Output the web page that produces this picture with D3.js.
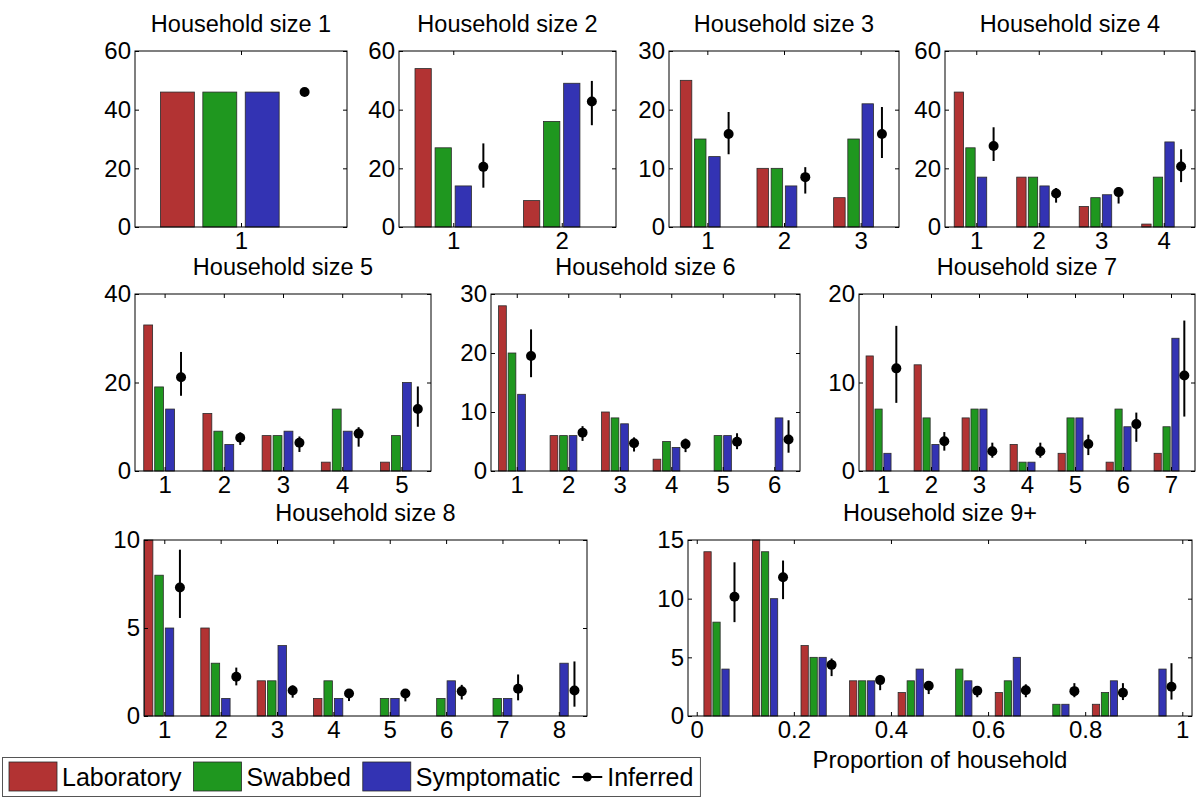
<!DOCTYPE html>
<html><head><meta charset="utf-8">
<script src="https://cdn.jsdelivr.net/npm/d3@7"></script>
<style>
body{margin:0;background:#fff}
svg{display:block}
text{font-family:"Liberation Sans",Arial,Helvetica,sans-serif;fill:#000}
</style>
</head><body>
<svg id="c" width="1200" height="798"></svg>
<script>
// ---------- DATA ----------
const seriesNames = ["Laboratory", "Swabbed", "Symptomatic", "Inferred"];
const titles = ["Household size 1", "Household size 2", "Household size 3", "Household size 4",
  "Household size 5", "Household size 6", "Household size 7", "Household size 8", "Household size 9+"];
const categories = [
  [1], [1, 2], [1, 2, 3], [1, 2, 3, 4], [1, 2, 3, 4, 5], [1, 2, 3, 4, 5, 6],
  [1, 2, 3, 4, 5, 6, 7], [1, 2, 3, 4, 5, 6, 7, 8],
  [0.05, 0.15, 0.25, 0.35, 0.45, 0.55, 0.65, 0.75, 0.85, 0.95]
];
const laboratory = [[46], [54, 9], [25, 10, 5], [46, 17, 7, 1], [33, 13, 8, 2, 2], [28, 6, 10, 2, 0, 0],
  [13, 12, 6, 3, 2, 1, 2], [10, 5, 2, 1, 0, 0, 0, 0], [14, 15, 6, 3, 2, 0, 2, 0, 1, 0]];
const swabbed = [[46], [27, 36], [15, 10, 15], [27, 17, 10, 17], [19, 9, 8, 14, 8], [20, 6, 9, 5, 6, 0],
  [7, 6, 7, 1, 6, 7, 5], [8, 3, 2, 2, 1, 1, 1, 0], [8, 14, 5, 3, 3, 4, 3, 1, 2, 0]];
const symptomatic = [[46], [14, 49], [12, 7, 21], [17, 14, 11, 29], [14, 6, 9, 9, 20], [13, 6, 8, 4, 6, 9],
  [2, 3, 7, 1, 6, 5, 15], [5, 1, 4, 1, 1, 2, 1, 3], [4, 10, 5, 3, 4, 3, 5, 1, 3, 4]];
const inferred = [[46], [20.5, 42.8], [15.85, 8.5, 15.85], [27.6, 11.4, 11.9, 20.6], [21.2, 7.5, 6.4, 8.45, 14.0],
  [19.5, 6.5, 4.7, 4.56, 4.95, 5.35], [11.6, 3.36, 2.23, 2.23, 3.06, 5.3, 10.8],
  [7.3, 2.23, 1.45, 1.28, 1.28, 1.4, 1.55, 1.45], [10.16, 11.83, 4.36, 3.06, 2.58, 2.15, 2.2, 2.12, 1.98, 2.5]];
const inferredLow = [[46], [13.4, 34.7], [12.4, 5.7, 11.76], [22.5, 8.3, 8.0, 15.3], [17.0, 5.9, 4.3, 5.5, 10.0],
  [15.9, 5.1, 3.3, 3.2, 3.7, 3.1], [7.7, 2.3, 1.5, 1.5, 1.8, 3.3, 6.15],
  [5.57, 1.74, 1.04, 0.85, 0.83, 0.94, 0.89, 0.53], [8.0, 9.96, 3.4, 2.2, 1.87, 1.6, 1.6, 1.6, 1.36, 1.4]];
const inferredHigh = [[46], [28.5, 49.8], [19.6, 10.2, 20.45], [34.0, 13.3, 13.6, 26.5], [26.9, 8.75, 7.8, 9.9, 19.1],
  [24.0, 7.6, 5.7, 5.5, 6.4, 8.6], [16.4, 4.4, 3.2, 3.2, 4.1, 6.6, 17.0],
  [9.45, 2.75, 1.74, 1.5, 1.5, 1.77, 2.36, 3.1], [13.1, 13.25, 4.9, 3.5, 2.9, 2.5, 2.7, 2.8, 2.8, 4.5]];
const yTicks = [[0, 20, 40, 60], [0, 20, 40, 60], [0, 10, 20, 30], [0, 20, 40, 60], [0, 20, 40],
  [0, 10, 20, 30], [0, 10, 20], [0, 5, 10], [0, 5, 10, 15]];
const propTicks = [0, 0.2, 0.4, 0.6, 0.8, 1];
const xAxisLabel = "Proportion of household";

// ---------- LAYOUT / STYLE ----------
const colors = ["#B23333", "#1F971F", "#3333B3"];
const layout = [
  {x0: 135, x1: 347, y0: 51, y1: 227, xd: [0.5, 1.5], step: 0.2, bw: 0.16},
  {x0: 399, x1: 616, y0: 51, y1: 227, xd: [0.5, 2.5]},
  {x0: 669, x1: 899, y0: 51, y1: 227, xd: [0.5, 3.5]},
  {x0: 945, x1: 1195, y0: 51, y1: 227, xd: [0.5, 4.5]},
  {x0: 135, x1: 431, y0: 294, y1: 471, xd: [0.5, 5.5]},
  {x0: 491, x1: 800, y0: 294, y1: 471, xd: [0.5, 6.5]},
  {x0: 859, x1: 1195, y0: 294, y1: 471, xd: [0.5, 7.5]},
  {x0: 144, x1: 587, y0: 540, y1: 716, xd: [0.64, 8.5]},
  {x0: 688, x1: 1192, y0: 540, y1: 716, xd: [-0.018, 1.02], unit: 0.1, prop: true}
];
const FS_TICK = 24, FS_TITLE = 23.5, FS_LABEL = 24, FS_LEGEND = 25;

const svg = d3.select("#c");

layout.forEach((L, i) => {
  const unit = L.unit || 1, step = (L.step || 0.185) * unit, bw = (L.bw || 0.15) * unit;
  const x = d3.scaleLinear().domain(L.xd).range([L.x0, L.x1]);
  const ymax = d3.max(yTicks[i]);
  const y = d3.scaleLinear().domain([0, ymax]).range([L.y1, L.y0]);
  const g = svg.append("g");
  const cats = categories[i];
  const series = [laboratory[i], swabbed[i], symptomatic[i]];

  // bars
  series.forEach((vals, k) => {
    g.selectAll(null).data(cats.map((c, j) => ({c, v: vals[j]})).filter(d => d.v > 0))
      .enter().append("rect")
      .attr("x", d => x(d.c + (k - 1.5) * step - bw / 2))
      .attr("width", d => x(d.c + (k - 1.5) * step + bw / 2) - x(d.c + (k - 1.5) * step - bw / 2))
      .attr("y", d => y(d.v))
      .attr("height", d => y(0) - y(d.v))
      .attr("fill", colors[k])
      .attr("stroke", "#2a2a2a").attr("stroke-width", 0.8);
  });
  // inferred with error bars
  const pts = cats.map((c, j) => ({c, v: inferred[i][j], lo: inferredLow[i][j], hi: inferredHigh[i][j]}));
  g.selectAll(null).data(pts).enter().append("line")
    .attr("x1", d => x(d.c + 1.5 * step)).attr("x2", d => x(d.c + 1.5 * step))
    .attr("y1", d => y(d.lo)).attr("y2", d => y(d.hi))
    .attr("stroke", "#000").attr("stroke-width", 2);
  g.selectAll(null).data(pts).enter().append("circle")
    .attr("cx", d => x(d.c + 1.5 * step)).attr("cy", d => y(d.v))
    .attr("r", 5).attr("fill", "#000");

  // axes
  const xt = L.prop ? propTicks : cats;
  const ax = g.append("g").attr("transform", `translate(0,${L.y1})`)
    .call(d3.axisBottom(x).tickValues(xt).tickSize(-4).tickPadding(5).tickFormat(d3.format("~g")));
  const axT = g.append("g").attr("transform", `translate(0,${L.y0})`)
    .call(d3.axisTop(x).tickValues(xt).tickSize(-4).tickFormat(""));
  const ay = g.append("g").attr("transform", `translate(${L.x0},0)`)
    .call(d3.axisLeft(y).tickValues(yTicks[i]).tickSize(-4).tickPadding(4));
  const ayR = g.append("g").attr("transform", `translate(${L.x1},0)`)
    .call(d3.axisRight(y).tickValues(yTicks[i]).tickSize(-4).tickFormat(""));
  [ax, axT, ay, ayR].forEach(a => {
    a.select(".domain").remove();
    a.selectAll("line").attr("stroke", "#000");
    a.selectAll("text").attr("font-size", FS_TICK).attr("font-family", null);
  });
  // box
  g.append("rect").attr("x", L.x0).attr("y", L.y0).attr("width", L.x1 - L.x0).attr("height", L.y1 - L.y0)
    .attr("fill", "none").attr("stroke", "#000").attr("stroke-width", 1);
  // title
  g.append("text").attr("x", (L.x0 + L.x1) / 2).attr("y", L.y0 - 19)
    .attr("text-anchor", "middle").attr("font-size", FS_TITLE).text(titles[i]);
  if (L.prop) {
    g.append("text").attr("x", (L.x0 + L.x1) / 2).attr("y", L.y1 + 52)
      .attr("text-anchor", "middle").attr("font-size", FS_LABEL).text(xAxisLabel);
  }
});

// legend
const leg = svg.append("g");
const legBox = leg.append("rect").attr("x", 2.5).attr("y", 757.5).attr("height", 39)
  .attr("fill", "#fff").attr("stroke", "#555").attr("stroke-width", 1);
let cx = 9;
seriesNames.forEach((name, k) => {
  if (k < 3) {
    leg.append("rect").attr("x", cx).attr("y", 762).attr("width", 48).attr("height", 29)
      .attr("fill", colors[k]).attr("stroke", "#2a2a2a").attr("stroke-width", 0.8);
    cx += 53;
  } else {
    leg.append("line").attr("x1", cx).attr("x2", cx + 30).attr("y1", 777).attr("y2", 777)
      .attr("stroke", "#000").attr("stroke-width", 2);
    leg.append("circle").attr("cx", cx + 15).attr("cy", 777).attr("r", 4.5).attr("fill", "#000");
    cx += 35;
  }
  const t = leg.append("text").attr("x", cx).attr("y", 786).attr("font-size", FS_LEGEND).text(name);
  cx += t.node().getComputedTextLength() + 12;
});
legBox.attr("width", cx - 2.5 - 5);
</script>
</body></html>
